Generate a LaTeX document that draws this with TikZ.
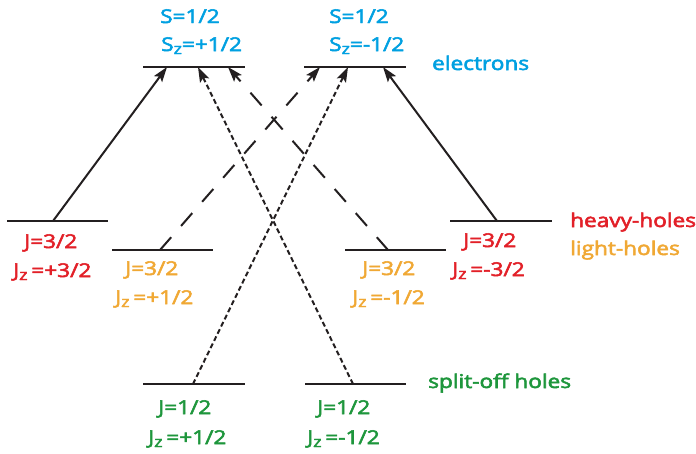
\documentclass[tikz,border=0pt]{standalone}
\usepackage{fontspec}
\setmainfont{Open Sans}[FakeBold=2.6]
\usetikzlibrary{arrows.meta}
\definecolor{ecyan}{RGB}{0,160,225}
\definecolor{hred}{RGB}{226,32,40}
\definecolor{lorange}{RGB}{240,168,52}
\definecolor{sgreen}{RGB}{30,150,60}
\definecolor{ink}{RGB}{35,31,32}
\newcommand\wx[1]{\scalebox{1.19}[1]{#1}}
\newcommand\zs{\raisebox{-3pt}{\fontsize{15}{15}\selectfont z}}
\tikzset{
  lvl/.style={line width=2.2pt, draw=ink},
  lab/.style={inner sep=0pt, anchor=base west, font=\fontsize{19}{19}\selectfont},
  arr/.style={line width=2pt, draw=ink, -{Stealth[length=15pt,width=10pt,inset=3pt]}},
  dsh/.style={arr, dash pattern=on 17pt off 15pt},
  dtt/.style={arr, dash pattern=on 5pt off 3pt},
}
\begin{document}
\begin{tikzpicture}[x=1pt,y=-1pt]
\useasboundingbox (0,0) rectangle (696,453);
% levels
\draw[lvl] (143,67) -- (245,67);
\draw[lvl] (304,67) -- (406,67);
\draw[lvl] (7,221) -- (108,221);
\draw[lvl] (112,250) -- (213,250);
\draw[lvl] (345,250) -- (446,250);
\draw[lvl] (450,221) -- (552,221);
\draw[lvl] (143,384) -- (245,384);
\draw[lvl] (305,384) -- (406,384);
% connector end points
\coordinate (e1a) at (167,67);
\coordinate (e1b) at (198,67);
\coordinate (e1c) at (228,67);
\coordinate (e2a) at (320,67);
\coordinate (e2b) at (348,67);
\coordinate (e2c) at (383,67);
\coordinate (hh1) at (53,221);
\coordinate (lh1) at (160,250);
\coordinate (lh2) at (388,250);
\coordinate (hh2) at (497,221);
\coordinate (so1) at (193,384);
\coordinate (so2) at (353,384);
% transitions
\draw[arr] (hh1) -- (e1a);
\draw[arr] (hh2) -- (e2c);
\draw[dsh] (lh1) -- (e2a);
\draw[dsh] (lh2) -- (e1c);
\draw[dtt] (so1) -- (e2b);
\draw[dtt] (so2) -- (e1b);
% electron labels
\node[lab, text=ecyan] (s1) at (160,23) {\wx{S=1/2}};
\node[lab, text=ecyan] (sz1) at (161,51) {\wx{S\zs=+1/2}};
\node[lab, text=ecyan] (s2) at (329,23) {\wx{S=1/2}};
\node[lab, text=ecyan] (sz2) at (329,51) {\wx{S\zs=-1/2}};
\node[lab, text=ecyan] (el) at (432,70) {\wx{electrons}};
% heavy holes
\node[lab, text=hred] (j1) at (24,248) {\wx{J=3/2}};
\node[lab, text=hred] (jz1) at (13,277) {\wx{J\zs\,=+3/2}};
\node[lab, text=hred] (j4) at (463,247) {\wx{J=3/2}};
\node[lab, text=hred] (jz4) at (452,276) {\wx{J\zs\,=-3/2}};
\node[lab, text=hred] (hh) at (570,227) {\wx{heavy-holes}};
% light holes
\node[lab, text=lorange] (j2) at (125,275) {\wx{J=3/2}};
\node[lab, text=lorange] (jz2) at (115,304) {\wx{J\zs\,=+1/2}};
\node[lab, text=lorange] (j3) at (362,275) {\wx{J=3/2}};
\node[lab, text=lorange] (jz3) at (352,304) {\wx{J\zs\,=-1/2}};
\node[lab, text=lorange] (lh) at (570,255) {\wx{light-holes}};
% split-off
\node[lab, text=sgreen] (j5) at (158,414) {\wx{J=1/2}};
\node[lab, text=sgreen] (jz5) at (148,444) {\wx{J\zs\,=+1/2}};
\node[lab, text=sgreen] (j6) at (317,414) {\wx{J=1/2}};
\node[lab, text=sgreen] (jz6) at (307,444) {\wx{J\zs\,=-1/2}};
\node[lab, text=sgreen] (so) at (428,388) {\wx{split-off holes}};
\end{tikzpicture}
\end{document}
